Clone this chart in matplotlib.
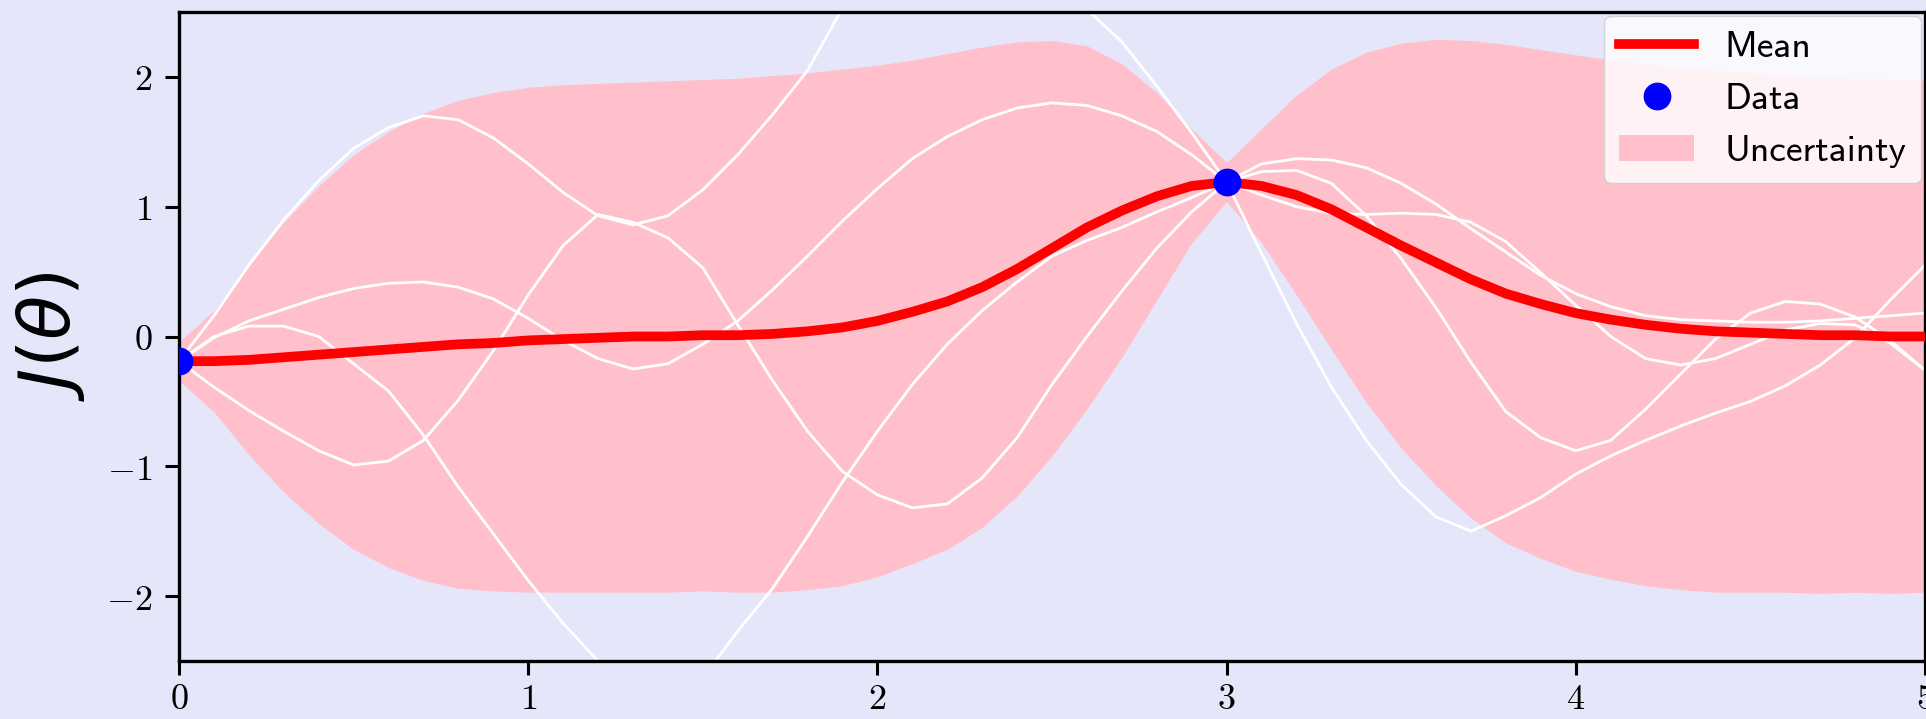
import matplotlib
matplotlib.use("Agg")
import matplotlib.pyplot as plt
from matplotlib.ticker import FuncFormatter

plt.rcParams["mathtext.fontset"] = "cm"

# evaluation grid for theta
theta = [0.0, 0.1, 0.2, 0.3, 0.4, 0.5, 0.6, 0.7, 0.8, 0.9,
         1.0, 1.1, 1.2, 1.3, 1.4, 1.5, 1.6, 1.7, 1.8, 1.9,
         2.0, 2.1, 2.2, 2.3, 2.4, 2.5, 2.6, 2.7, 2.8, 2.9,
         3.0, 3.1, 3.2, 3.3, 3.4, 3.5, 3.6, 3.7, 3.8, 3.9,
         4.0, 4.1, 4.2, 4.3, 4.4, 4.5, 4.6, 4.7, 4.8, 4.9, 5.0]

# observed points
data_x = [0.0, 3.0]
data_y = [-0.19, 1.19]

# posterior mean
mean = [-0.19, -0.19, -0.18, -0.16, -0.14, -0.12, -0.10, -0.08, -0.06, -0.05,
        -0.03, -0.02, -0.01, 0.00, 0.00, 0.01, 0.01, 0.02, 0.04, 0.07,
        0.12, 0.19, 0.27, 0.38, 0.52, 0.68, 0.84, 0.97, 1.08, 1.16,
        1.19, 1.16, 1.09, 0.98, 0.84, 0.70, 0.57, 0.44, 0.33, 0.25,
        0.18, 0.13, 0.09, 0.06, 0.04, 0.03, 0.02, 0.01, 0.01, 0.00, 0.00]

# uncertainty band edges
upper = [-0.04, 0.20, 0.55, 0.88, 1.16, 1.40, 1.58, 1.72, 1.82, 1.88,
         1.92, 1.94, 1.95, 1.96, 1.97, 1.98, 1.99, 2.01, 2.03, 2.06,
         2.09, 2.13, 2.18, 2.23, 2.27, 2.28, 2.24, 2.10, 1.88, 1.60,
         1.34, 1.60, 1.86, 2.06, 2.19, 2.26, 2.29, 2.28, 2.25, 2.21,
         2.17, 2.13, 2.10, 2.07, 2.05, 2.03, 2.01, 2.00, 1.99, 1.98, 1.97]
lower = [-0.34, -0.58, -0.91, -1.20, -1.44, -1.64, -1.78, -1.88, -1.94, -1.96,
         -1.97, -1.97, -1.97, -1.97, -1.97, -1.96, -1.97, -1.97, -1.95, -1.92,
         -1.85, -1.75, -1.64, -1.47, -1.23, -0.92, -0.56, -0.16, 0.28, 0.72,
         1.04, 0.72, 0.32, -0.10, -0.51, -0.86, -1.15, -1.40, -1.59, -1.71,
         -1.81, -1.87, -1.92, -1.95, -1.97, -1.97, -1.97, -1.98, -1.97, -1.98, -1.97]

# posterior samples
sample_1 = [-0.19, -0.39, -0.57, -0.73, -0.88, -0.99, -0.96, -0.80, -0.49, -0.11,
            0.32, 0.70, 0.94, 0.88, 0.76, 0.53, 0.09, -0.34, -0.73, -1.04,
            -1.22, -1.32, -1.29, -1.09, -0.78, -0.37, 0.00, 0.35, 0.68, 0.96,
            1.19, 1.27, 1.28, 1.18, 0.93, 0.60, 0.22, -0.20, -0.58, -0.78,
            -0.88, -0.80, -0.56, -0.29, -0.02, 0.18, 0.27, 0.25, 0.15, -0.03, -0.26]
sample_2 = [-0.19, 0.00, 0.08, 0.08, 0.00, -0.21, -0.42, -0.76, -1.16, -1.52,
            -1.88, -2.21, -2.50, -2.74, -2.78, -2.63, -2.27, -1.94, -1.54, -1.12,
            -0.73, -0.37, -0.06, 0.20, 0.42, 0.62, 0.74, 0.84, 0.96, 1.07,
            1.19, 1.33, 1.37, 1.36, 1.30, 1.18, 1.02, 0.83, 0.65, 0.47,
            0.33, 0.23, 0.16, 0.13, 0.12, 0.11, 0.11, 0.12, 0.14, 0.16, 0.18]
sample_3 = [-0.19, -0.01, 0.12, 0.21, 0.30, 0.37, 0.41, 0.42, 0.38, 0.29,
            0.14, -0.03, -0.17, -0.25, -0.21, -0.06, 0.12, 0.36, 0.62, 0.89,
            1.14, 1.37, 1.54, 1.67, 1.76, 1.80, 1.78, 1.70, 1.58, 1.40,
            1.19, 1.09, 1.00, 0.95, 0.94, 0.95, 0.94, 0.88, 0.73, 0.49,
            0.24, 0.00, -0.17, -0.22, -0.17, -0.06, 0.05, 0.10, 0.09, -0.05, -0.26]
sample_4 = [-0.19, 0.16, 0.55, 0.90, 1.20, 1.45, 1.61, 1.70, 1.67, 1.53,
            1.33, 1.11, 0.93, 0.86, 0.93, 1.13, 1.40, 1.71, 2.05, 2.53,
            2.90, 3.15, 3.25, 3.22, 3.05, 2.80, 2.52, 2.27, 1.93, 1.57,
            1.19, 0.64, 0.10, -0.39, -0.80, -1.14, -1.39, -1.50, -1.38, -1.24,
            -1.06, -0.92, -0.80, -0.69, -0.59, -0.50, -0.38, -0.22, -0.01, 0.28, 0.55]
samples = [sample_1, sample_2, sample_3, sample_4]

bg = "#E6E6FA"

fig = plt.figure(figsize=(19.26, 7.19), dpi=100, facecolor=bg)
ax = fig.add_axes([179 / 1926, 58 / 719, 1746 / 1926, 649 / 719])
ax.set_facecolor(bg)

ax.fill_between(theta, lower, upper, color="pink", linewidth=0, label="Uncertainty")
for s in samples:
    ax.plot(theta, s, color="white", linewidth=2, solid_joinstyle="round")
ax.plot(theta, mean, color="red", linewidth=7, label="Mean", zorder=4,
        solid_joinstyle="round")
ax.plot(data_x, data_y, "o", color="blue", markersize=19, label="Data", zorder=5)

ax.set_xlim(0, 5)
ax.set_ylim(-2.5, 2.5)
ax.set_xticks([0, 1, 2, 3, 4, 5])
ax.set_yticks([-2, -1, 0, 1, 2])
ax.xaxis.set_major_formatter(FuncFormatter(lambda v, p: f"${v:g}$"))
ax.yaxis.set_major_formatter(FuncFormatter(lambda v, p: f"${v:g}$"))
ax.tick_params(labelsize=26, length=10, width=2.2)
ax.tick_params(axis="x", pad=5)
ax.tick_params(axis="y", pad=9)
for sp in ax.spines.values():
    sp.set_linewidth(2.4)

ax.set_ylabel(r"$J(\theta)$", fontsize=52, math_fontfamily="dejavusans", labelpad=14)

handles, labels = ax.get_legend_handles_labels()
order = [labels.index(n) for n in ["Mean", "Data", "Uncertainty"]]
ax.legend([handles[i] for i in order], [labels[i] for i in order],
          loc="upper right", borderaxespad=0.1, numpoints=1,
          prop={"family": "cmss10", "size": 27})

fig.savefig("out.png", dpi=100, facecolor=bg)
